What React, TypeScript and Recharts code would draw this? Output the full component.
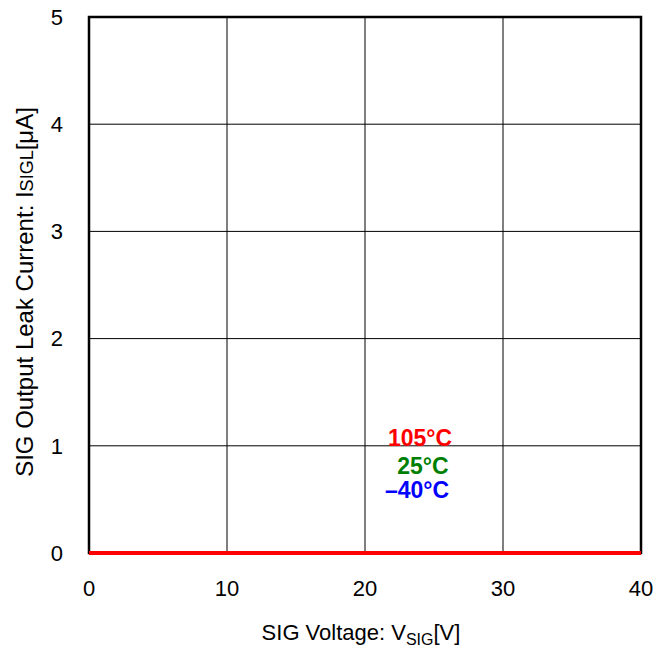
import { LineChart, Line, XAxis, YAxis, CartesianGrid, ReferenceArea, ReferenceDot } from "recharts";

const voltages = [0, 5, 10, 15, 20, 25, 30, 35, 40];
const leak105 = [0, 0, 0, 0, 0, 0, 0, 0, 0];
const leak25 = [0, 0, 0, 0, 0, 0, 0, 0, 0];
const leakMinus40 = [0, 0, 0, 0, 0, 0, 0, 0, 0];
const xTicks = [0, 10, 20, 30, 40];
const yTicks = [0, 1, 2, 3, 4, 5];

const labels = [
  { text: "105°C", x: 23.99, y: 1.073, color: "#ff0000" },
  { text: "25°C", x: 24.2, y: 0.81, color: "#008000" },
  { text: "\u201340°C", x: 23.77, y: 0.588, color: "#0000ff" },
];

const data = voltages.map((v, i) => ({
  v,
  t105: leak105[i],
  t25: leak25[i],
  tm40: leakMinus40[i],
}));

const FONT = "'Liberation Sans', Arial, sans-serif";

const XTitle = ({ viewBox }: any) => {
  const cx = viewBox.x + viewBox.width / 2 - 4;
  return (
    <text x={cx} y={640} textAnchor="middle" fontSize={22} fill="#000" fontFamily={FONT}>
      <tspan>SIG Voltage: V</tspan>
      <tspan fontSize={16} dy={5}>SIG</tspan>
      <tspan dy={-5}>[V]</tspan>
    </text>
  );
};

const YTitle = ({ viewBox }: any) => {
  const cy = viewBox.y + viewBox.height / 2 + 7;
  return (
    <text
      x={33}
      y={cy}
      transform={`rotate(-90, 33, ${cy})`}
      textAnchor="middle"
      fontSize={24}
      fill="#000"
      fontFamily={FONT}
    >
      <tspan>SIG Output Leak Current: I</tspan>
      <tspan fontSize={18}>SIGL</tspan>
      <tspan>[μA]</tspan>
    </text>
  );
};

const TempLabel = (color: string, text: string) => ({ viewBox }: any) => (
  <text
    x={viewBox.x}
    y={viewBox.y}
    dy={8}
    textAnchor="middle"
    fontSize={23}
    fontWeight="bold"
    fill={color}
    fontFamily={FONT}
  >
    {text}
  </text>
);

export default function App() {
  return (
    <div style={{ position: "absolute", left: 0, top: 0, background: "#fff" }}>
      <LineChart width={669} height={651} data={data} margin={{ top: 17, right: 28, bottom: 0, left: 0 }}>
        <CartesianGrid stroke="#000" strokeWidth={1} />
        <XAxis
          dataKey="v"
          type="number"
          domain={[0, 40]}
          ticks={xTicks}
          height={98}
          tickSize={0}
          tickMargin={27}
          axisLine={false}
          tick={{ fontSize: 22, fill: "#000", fontFamily: FONT }}
          label={{ content: XTitle }}
        />
        <YAxis
          type="number"
          domain={[0, 5]}
          ticks={yTicks}
          width={89}
          tickSize={0}
          tickMargin={26}
          axisLine={false}
          tick={{ fontSize: 22, fill: "#000", fontFamily: FONT }}
          label={{ content: YTitle }}
        />
        <ReferenceArea x1={0} x2={40} y1={0} y2={5} fill="none" stroke="#000" strokeWidth={2.5} fillOpacity={0} />
        <Line dataKey="tm40" stroke="#0000ff" strokeWidth={4} dot={false} isAnimationActive={false} />
        <Line dataKey="t25" stroke="#008000" strokeWidth={4} dot={false} isAnimationActive={false} />
        <Line dataKey="t105" stroke="#ff0000" strokeWidth={4} dot={false} isAnimationActive={false} />
        {labels.map((l) => (
          <ReferenceDot
            key={l.text}
            x={l.x}
            y={l.y}
            r={0}
            fill="none"
            stroke="none"
            label={{ content: TempLabel(l.color, l.text) }}
          />
        ))}
      </LineChart>
    </div>
  );
}
